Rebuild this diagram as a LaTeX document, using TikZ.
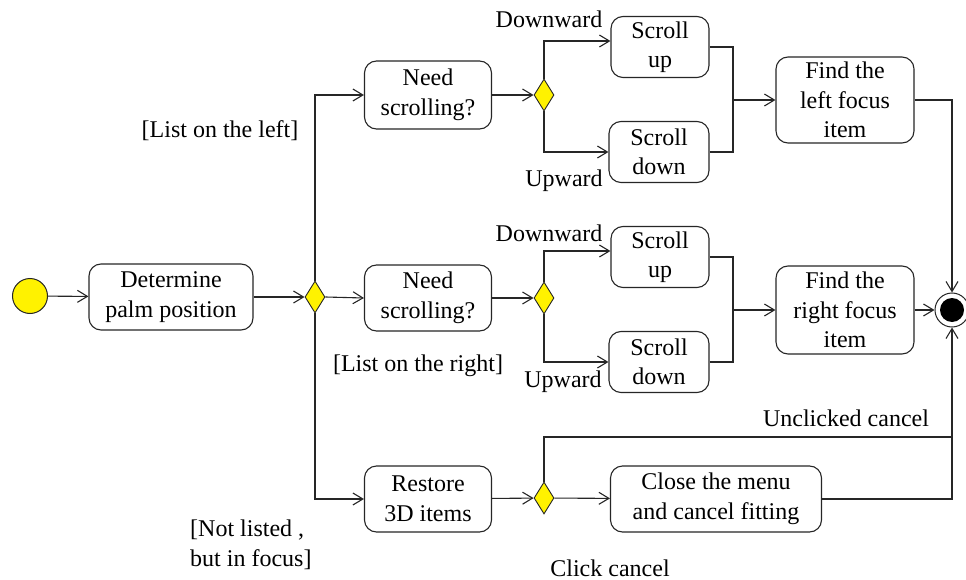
\documentclass[tikz,border=0pt]{standalone}
\usepackage{fontspec}
\setmainfont{Liberation Serif}
\usepackage{tikz}
\usetikzlibrary{arrows.meta,shapes.geometric,calc}
\definecolor{ink}{HTML}{262626}
\definecolor{yel}{HTML}{FFF200}
\tikzset{
  flow/.style={-{Straight Barb[length=10pt,width=12pt]},ink,line width=1.1pt},
  wire/.style={ink,line width=1.1pt},
  act/.style={draw=ink,fill=white,line width=1.1pt,rounded corners=12pt,align=center,inner sep=2pt},
  dec/.style={diamond,draw=ink,fill=yel,line width=0.9pt,inner sep=0pt,minimum width=20pt,minimum height=32pt},
  lbl/.style={inner sep=0pt,align=center},
}

\begin{document}
\begin{tikzpicture}[x=1pt,y=-1pt,font=\fontsize{24}{29.5}\selectfont]
  \useasboundingbox (0,0) rectangle (966,580);
  % start and end
  \node[circle,draw=ink,fill=yel,line width=1pt,minimum size=35pt,inner sep=0pt] (start) at (30,296) {};
  \node[circle,draw=ink,fill=white,line width=1pt,minimum size=34pt,inner sep=0pt] (stop) at (952,310) {};
  \fill[black] (stop) circle (12pt);
  % activities
  \node[act,minimum width=164pt,minimum height=66pt] (det) at (171,297) {Determine\\palm position};
  \node[act,minimum width=127pt,minimum height=68pt] (needl) at (428,95) {Need\\scrolling?};
  \node[act,minimum width=127pt,minimum height=66pt] (needr) at (428,298) {Need\\scrolling?};
  \node[act,minimum width=127pt,minimum height=66pt] (restore) at (428,499) {Restore\\3D items};
  \node[act,minimum width=98pt,minimum height=61pt] (upl) at (660,47) {Scroll\\up};
  \node[act,minimum width=100pt,minimum height=61pt] (downl) at (659,152) {Scroll\\down};
  \node[act,minimum width=98pt,minimum height=61pt] (upr) at (660,257) {Scroll\\up};
  \node[act,minimum width=100pt,minimum height=61pt] (downr) at (659,362) {Scroll\\down};
  \node[act,minimum width=138pt,minimum height=86pt] (findl) at (845,100) {Find the\\left focus\\item};
  \node[act,minimum width=138pt,minimum height=88pt] (findr) at (845,310) {Find the\\right focus\\item};
  \node[act,minimum width=211pt,minimum height=66pt] (close) at (716,499) {Close the menu\\and cancel fitting};
  % decisions
  \node[dec] (dpos) at (315,297) {};
  \node[dec] (dl) at (544,95) {};
  \node[dec] (dr) at (544,298) {};
  \node[dec] (dc) at (544,498) {};
  \coordinate (ml) at (733,100);
  \coordinate (mr) at (733,310);
  \coordinate (uc) at (stop |- 0,437);
  % flows
  \draw[flow] (start) -- (det);
  \draw[flow] (det) -- (dpos);
  \draw[flow] (dpos.north) |- (needl.west);
  \draw[flow] (dpos.east) -- (needr.west);
  \draw[flow] (dpos.south) |- (restore.west);
  \draw[flow] (needl) -- (dl);
  \draw[flow] (needr) -- (dr);
  \draw[flow] (restore) -- (dc);
  \draw[flow] (dl.north) |- ([yshift=6pt]upl.west);
  \draw[flow] (dl.south) |- (downl.west);
  \draw[flow] (dr.north) |- ([yshift=6pt]upr.west);
  \draw[flow] (dr.south) |- (downr.west);
  \draw[wire] (upl.east) -| (ml);
  \draw[wire] (downl.east) -| (ml);
  \draw[flow] (ml) -- (findl.west);
  \draw[wire] (upr.east) -| (mr);
  \draw[wire] (downr.east) -| (mr);
  \draw[flow] (mr) -- (findr.west);
  \draw[flow] (findl.east) -| (stop.north);
  \draw[flow] (findr) -- (stop);
  \draw[flow] (dc) -- (close);
  \draw[flow] (close.east) -| (stop.south);
  \draw[wire] (dc.north) |- (uc);
  % guards
  \node[lbl] (gleft) at (220,131) {[List on the left]};
  \node[lbl] (gright) at (418,366) {[List on the right]};
  \node[lbl,align=left,anchor=west] (gnone) at (190,545) {[Not listed ,\\but in focus]};
  \node[lbl] (downwl) at (549,19) {Downward};
  \node[lbl] (upwl) at (564,181) {Upward};
  \node[lbl] (downwr) at (549,233) {Downward};
  \node[lbl] (upwr) at (563,382) {Upward};
  \node[lbl] (uncl) at (846,418) {Unclicked cancel};
  \node[lbl] (clk) at (610,568) {Click cancel};
\end{tikzpicture}
\end{document}
